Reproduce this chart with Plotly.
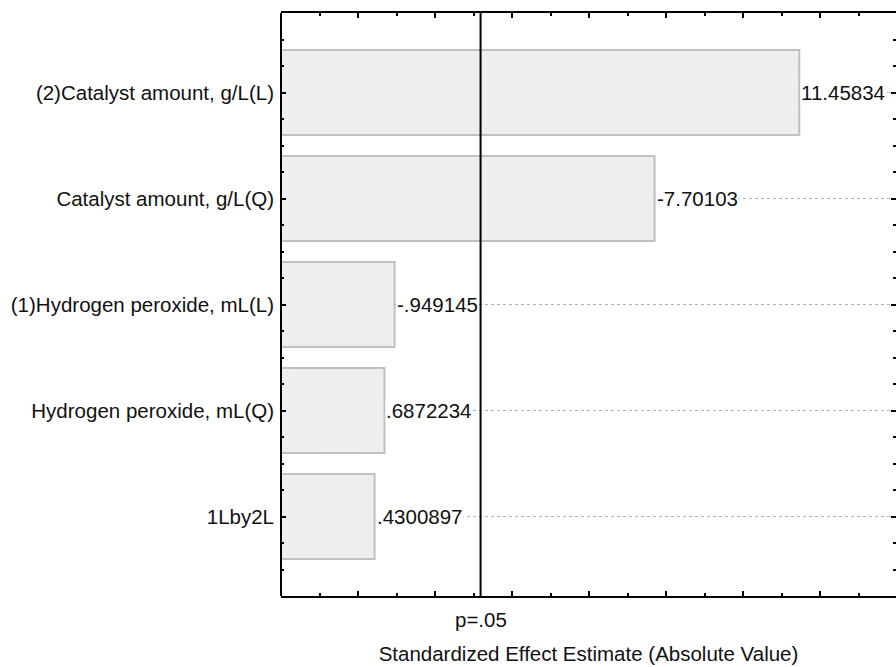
import plotly.graph_objects as go

# ---- data ----
effects = [
    "(2)Catalyst amount, g/L(L)",
    "Catalyst amount, g/L(Q)",
    "(1)Hydrogen peroxide, mL(L)",
    "Hydrogen peroxide, mL(Q)",
    "1Lby2L",
]
estimates = [11.45834, -7.70103, -0.949145, 0.6872234, 0.4300897]
estimate_labels = ["11.45834", "-7.70103", "-.949145", ".6872234", ".4300897"]
p_critical = 3.182446
p_label = "p=.05"
x_title = "Standardized Effect Estimate (Absolute Value)"
axis_min = -2
axis_max = 13.97

FONT = "Liberation Sans, Arial, sans-serif"
TXT = "#111111"
FS = 20.5

abs_vals = [abs(v) for v in estimates]
pos = list(range(len(effects)))

fig = go.Figure(
    go.Bar(
        y=pos,
        x=[v - axis_min for v in abs_vals],
        base=axis_min,
        orientation="h",
        width=0.8,
        marker=dict(
            color="#efefef",
            line=dict(color="#c0c0c0", width=2),
            pattern=dict(shape="/", fgcolor="#e4e4e4", bgcolor="#f0f0f0",
                         size=3, solidity=0.3),
        ),
        hoverinfo="skip",
    )
)

for v, lab, p in zip(abs_vals, estimate_labels, pos):
    fig.add_annotation(
        x=v, y=p, text=lab, showarrow=False, xanchor="left", yanchor="middle",
        xshift=1, bgcolor="white", borderpad=0,
        font=dict(family=FONT, size=FS, color=TXT),
    )

fig.add_annotation(
    x=p_critical, y=0, yref="paper", text=p_label, showarrow=False,
    xanchor="center", yanchor="middle", yshift=-23,
    font=dict(family=FONT, size=FS, color=TXT),
)

fig.add_shape(type="line", x0=p_critical, x1=p_critical, y0=0, y1=1,
              xref="x", yref="paper", line=dict(color="black", width=2),
              layer="above")
fig.add_shape(type="line", x0=0, x1=0, y0=0, y1=1, xref="paper", yref="paper",
              line=dict(color="black", width=2), layer="above")

fig.update_layout(
    width=896, height=667,
    margin=dict(l=281, r=0, t=13, b=71),
    paper_bgcolor="white", plot_bgcolor="white",
    showlegend=False,
    font=dict(family=FONT, size=FS, color=TXT),
    bargap=0.2,
)
fig.update_xaxes(
    range=[axis_min, axis_max], showgrid=False, zeroline=False,
    showticklabels=False, ticks="inside", tick0=0, dtick=2, ticklen=5,
    tickwidth=2, tickcolor="black", showline=True, linecolor="black",
    linewidth=2, mirror="allticks",
    minor=dict(dtick=1, tick0=0, ticks="inside", ticklen=3, tickwidth=2,
               tickcolor="black", showgrid=False),
    title=dict(text=x_title, standoff=50,
               font=dict(family=FONT, size=FS, color=TXT)),
)
fig.update_yaxes(
    range=[4.75, -0.75], tickmode="array", tickvals=pos, ticktext=effects,
    ticks="inside", ticklen=5, tickwidth=2, tickcolor="black",
    showgrid=True, gridcolor="#b0b0b0", griddash="dot", gridwidth=1,
    showline=False, mirror="allticks", zeroline=False,
    ticklabelstandoff=6,
    tickfont=dict(family=FONT, size=FS, color=TXT),
    minor=dict(tick0=0, dtick=0.25, ticks="inside", ticklen=3, tickwidth=2,
               tickcolor="black", showgrid=False),
)

fig.write_html("out.html")
